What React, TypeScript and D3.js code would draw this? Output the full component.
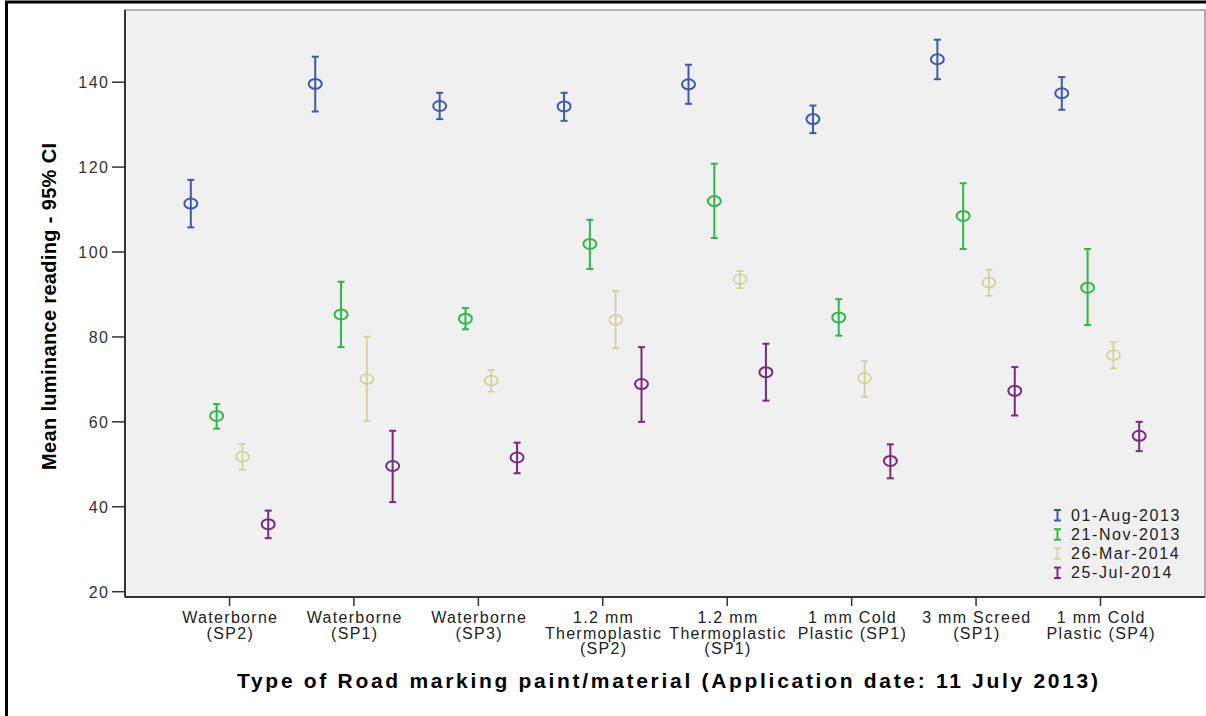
import React from 'react';
import * as d3 from 'd3';

const categories: string[][] = [
  ['Waterborne', '(SP2)'],
  ['Waterborne', '(SP1)'],
  ['Waterborne', '(SP3)'],
  ['1.2 mm', 'Thermoplastic', '(SP2)'],
  ['1.2 mm', 'Thermoplastic', '(SP1)'],
  ['1 mm Cold', 'Plastic (SP1)'],
  ['3 mm Screed', '(SP1)'],
  ['1 mm Cold', 'Plastic (SP4)'],
];
const seriesNames = ['01-Aug-2013', '21-Nov-2013', '26-Mar-2014', '25-Jul-2014'];
const seriesColors = ['#3E58AC', '#2EB848', '#D3CE97', '#7C287D'];

const aug2013Mean = [111.4, 139.6, 134.4, 134.3, 139.5, 131.3, 145.4, 137.4];
const aug2013Upper = [117.0, 146.0, 137.5, 137.5, 144.1, 134.5, 150.0, 141.2];
const aug2013Lower = [105.8, 133.1, 131.3, 130.9, 134.9, 128.0, 140.7, 133.5];

const nov2013Mean = [61.4, 85.3, 84.3, 101.9, 112.0, 84.6, 108.5, 91.6];
const nov2013Upper = [64.2, 93.0, 86.8, 107.6, 120.8, 88.9, 116.2, 100.7];
const nov2013Lower = [58.4, 77.6, 81.8, 96.0, 103.3, 80.3, 100.7, 82.8];

const mar2014Mean = [51.8, 70.1, 69.7, 84.0, 93.6, 70.3, 92.8, 75.7];
const mar2014Upper = [54.8, 80.1, 72.2, 90.8, 95.5, 74.3, 95.8, 78.8];
const mar2014Lower = [48.7, 60.2, 67.1, 77.3, 91.5, 65.9, 89.7, 72.6];

const jul2014Mean = [35.9, 49.6, 51.6, 68.9, 71.7, 50.8, 67.3, 56.7];
const jul2014Upper = [39.1, 57.9, 55.1, 77.6, 78.4, 54.7, 72.9, 60.0];
const jul2014Lower = [32.6, 41.1, 47.9, 60.0, 65.0, 46.7, 61.5, 53.1];

const yTicks = [20, 40, 60, 80, 100, 120, 140];

const yTitle = 'Mean luminance reading - 95% CI';
const xTitle = 'Type of Road marking paint/material (Application date: 11 July 2013)';

const seriesData = [
  { mean: aug2013Mean, upper: aug2013Upper, lower: aug2013Lower },
  { mean: nov2013Mean, upper: nov2013Upper, lower: nov2013Lower },
  { mean: mar2014Mean, upper: mar2014Upper, lower: mar2014Lower },
  { mean: jul2014Mean, upper: jul2014Upper, lower: jul2014Lower },
];

const W = 1206;
const H = 716;
const plot = { left: 125, right: 1205, top: 10, bottom: 597 };
const FONT = "'Liberation Sans', Arial, sans-serif";

export default function App() {
  const catKeys = categories.map((c) => c.join(' '));
  const x = d3.scalePoint<string>().domain(catKeys).range([plot.left, plot.right]).padding(0.84);
  const xs = d3.scalePoint<string>().domain(seriesNames).range([-38.7, 38.7]);
  const y = d3.scaleLinear().domain([18.75, 157]).range([plot.bottom, plot.top]);

  return (
    <svg
      width={W}
      height={H}
      style={{ position: 'absolute', left: 0, top: 0, background: '#fff' }}
    >
      <rect x={0} y={0} width={W} height={H} fill="#fff" />
      {/* outer frame */}
      <rect x={6.5} y={2} width={1400} height={900} fill="none" stroke="#000" strokeWidth={3} />
      {/* plot background */}
      <rect
        x={plot.left}
        y={plot.top}
        width={plot.right - plot.left}
        height={plot.bottom - plot.top}
        fill="#F0F0F0"
        stroke="#9a9a9a"
        strokeWidth={1.5}
      />
      {/* axes lines */}
      <line x1={plot.left} x2={plot.left} y1={plot.top} y2={plot.bottom} stroke="#333" strokeWidth={2} />
      <line x1={plot.left} x2={plot.right} y1={plot.bottom} y2={plot.bottom} stroke="#333" strokeWidth={2} />

      {/* y ticks */}
      {yTicks.map((t) => (
        <g key={t}>
          <line x1={plot.left - 13} x2={plot.left} y1={y(t)} y2={y(t)} stroke="#333" strokeWidth={1.5} />
          <text
            x={plot.left - 15.5}
            y={y(t) + 6}
            textAnchor="end"
            fontFamily={FONT}
            fontSize={16}
            letterSpacing={1.5}
            fill="#333"
          >
            {t}
          </text>
        </g>
      ))}

      {/* x ticks */}
      {categories.map((c, i) => {
        const cx = x(catKeys[i]) as number;
        return (
          <g key={i}>
            <line x1={cx} x2={cx} y1={plot.bottom} y2={plot.bottom + 9} stroke="#333" strokeWidth={1.5} />
            {c.map((line, j) => (
              <text
                key={j}
                x={cx + 0.8}
                y={623 + j * 15.5}
                textAnchor="middle"
                fontFamily={FONT}
                fontSize={16}
                letterSpacing={1.3}
                fill="#222"
              >
                {line}
              </text>
            ))}
          </g>
        );
      })}

      {/* error bars */}
      {seriesData.map((s, si) => {
        const color = seriesColors[si];
        const sw = si === 2 ? 1.6 : 2;
        const off = xs(seriesNames[si]) as number;
        return (
          <g key={si}>
            {s.mean.map((m, ci) => {
              const cx = (x(catKeys[ci]) as number) + off;
              const yt = y(s.upper[ci]);
              const yb = y(s.lower[ci]);
              const ym = y(m);
              return (
                <g key={ci} stroke={color} strokeWidth={sw} fill="none">
                  <line x1={cx} x2={cx} y1={yt} y2={yb} />
                  <line x1={cx - 3.5} x2={cx + 3.5} y1={yt} y2={yt} />
                  <line x1={cx - 3.5} x2={cx + 3.5} y1={yb} y2={yb} />
                  <ellipse cx={cx} cy={ym} rx={6.5} ry={5} />
                </g>
              );
            })}
          </g>
        );
      })}

      {/* legend */}
      {seriesNames.map((n, i) => {
        const by = 520.5 + i * 19.2;
        const color = seriesColors[i];
        return (
          <g key={n}>
            <g stroke={color} strokeWidth={i === 2 ? 1.6 : 2}>
              <line x1={1057.5} x2={1057.5} y1={by - 10.5} y2={by} />
              <line x1={1054} x2={1061} y1={by - 10.5} y2={by - 10.5} />
              <line x1={1054} x2={1061} y1={by} y2={by} />
            </g>
            <text x={1071} y={by} fontFamily={FONT} fontSize={16} letterSpacing={1.6} fill="#222">
              {n}
            </text>
          </g>
        );
      })}

      {/* axis titles */}
      <text
        transform={`translate(56, ${306.5}) rotate(-90)`}
        textAnchor="middle"
        fontFamily={FONT}
        fontSize={20}
        fontWeight="bold"
        textLength={327}
        lengthAdjust="spacing"
        fill="#000"
      >
        {yTitle}
      </text>
      <text
        x={667.5}
        y={688}
        textAnchor="middle"
        fontFamily={FONT}
        fontSize={21}
        fontWeight="bold"
        textLength={861}
        lengthAdjust="spacing"
        fill="#000"
      >
        {xTitle}
      </text>
    </svg>
  );
}
